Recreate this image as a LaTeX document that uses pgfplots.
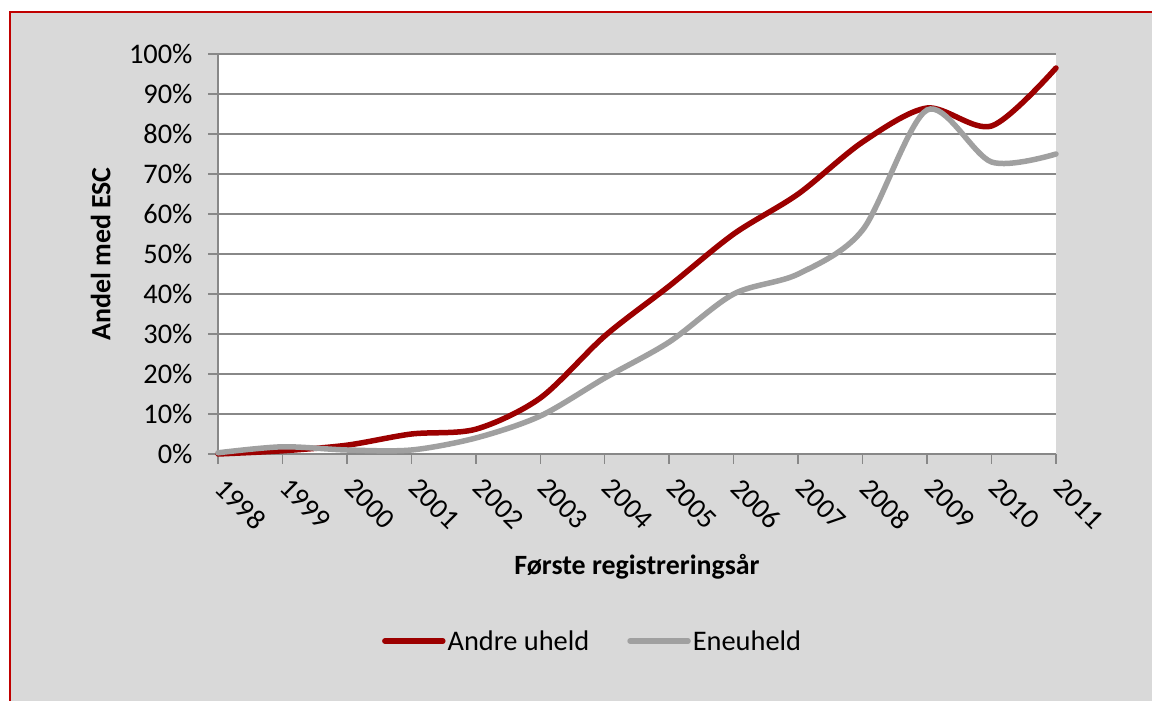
\documentclass[border=0pt]{standalone}
\usepackage{pgfplots}
\pgfplotsset{compat=1.18}
\usepackage{fontspec}
\setmainfont{Carlito}
\definecolor{bg}{HTML}{D9D9D9}
\definecolor{frame}{HTML}{C00000}
\definecolor{redline}{HTML}{9C0000}
\definecolor{grayline}{HTML}{A0A0A0}
\definecolor{gridc}{HTML}{888888}
\begin{document}
\begin{tikzpicture}
\useasboundingbox (0,0) rectangle (1152bp,701bp);
\fill[bg] (10bp,0) rectangle (1152bp,689bp);
\draw[frame,line width=1.5bp] (10bp,0) -- (10bp,689bp) -- (1152bp,689bp);
\begin{axis}[
  at={(218bp,247bp)}, anchor=south west,
  scale only axis, width=838bp, height=400bp,
  xmin=1998, xmax=2011, ymin=0, ymax=100,
  axis x line*=bottom, axis y line*=left,
  axis line style={gridc, line width=1.4bp},
  every tick/.style={gridc, line width=1.4bp},
  tick align=outside, major tick length=10bp,
  xtick={1998,...,2011}, ytick={0,10,...,100},
  yticklabel={\pgfmathprintnumber{\tick}\%},
  /pgf/number format/assume math mode=true,
  /pgf/number format/1000 sep={},
  ymajorgrids, grid style={gridc, line width=1.5bp},
  axis background/.style={fill=white},
  tick label style={font=\fontsize{28.5}{32}\selectfont, black},
  yticklabel style={xshift=-12bp},
  xticklabel style={rotate=-45, anchor=north west, xshift=12bp, yshift=1bp},
  xlabel={Første registreringsår},
  ylabel={Andel med ESC},
  label style={font=\fontsize{28}{32}\selectfont\bfseries},
  xlabel style={at={(axis description cs:0.5,-0.2825)}, anchor=center},
  ylabel style={at={(axis description cs:-0.14,0.5)}, anchor=center},
  legend style={at={(axis description cs:0.447,-0.4675)}, anchor=center,
    draw=none, fill=none, legend columns=-1,
    font=\fontsize{28.5}{32}\selectfont,
    /tikz/every even column/.append style={column sep=36bp}},
  legend image code/.code={\draw[#1, line cap=round] (0bp,0bp) -- (58bp,0bp);},
  clip=false,
]
\addplot[redline, line width=5.5bp, smooth, line cap=round] coordinates {
(1998,0) (1999,0.8) (2000,2.2) (2001,5) (2002,6.2) (2003,14) (2004,29.5)
(2005,42) (2006,55) (2007,65) (2008,78) (2009,86.5) (2010,82) (2011,96.5)};
\addlegendentry{Andre uheld}
\addplot[grayline, line width=5.5bp, smooth, line cap=round] coordinates {
(1998,0.3) (1999,1.8) (2000,1.0) (2001,1.0) (2002,4) (2003,9.5) (2004,19)
(2005,28) (2006,40) (2007,45) (2008,56) (2009,86) (2010,73) (2011,75)};
\addlegendentry{Eneuheld}
\end{axis}
\end{tikzpicture}
\end{document}
